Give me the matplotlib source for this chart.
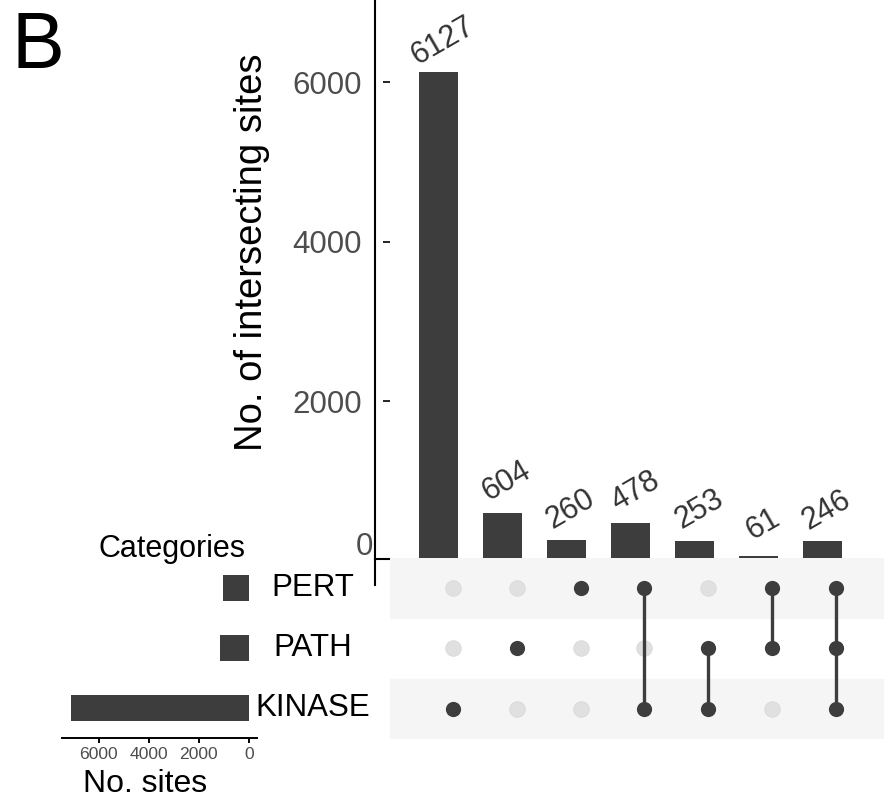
import matplotlib
matplotlib.use('Agg')
import matplotlib.pyplot as plt
import matplotlib.transforms as mtransforms
from matplotlib.lines import Line2D

plt.rcParams['font.family'] = ['Liberation Sans', 'DejaVu Sans']

# Data
sets = ['PERT', 'PATH', 'KINASE']
set_sizes = [1045, 1164, 7104]
inter_counts = [6127, 604, 260, 478, 253, 61, 246]
# membership of each intersection (one row per set: PERT, PATH, KINASE)
members = [
    ['KINASE'],
    ['PATH'],
    ['PERT'],
    ['PERT', 'KINASE'],
    ['PATH', 'KINASE'],
    ['PERT', 'PATH'],
    ['PERT', 'PATH', 'KINASE'],
]
bar_ticks = [2000, 4000, 6000]
set_ticks = [0, 2000, 4000, 6000]

W, H = 884, 798
dark = '#3D3D3D'
grey_txt = '#4D4D4D'


def box(left, top, right, bottom):
    # figure fractions from pixel edges
    return [left / W, 1 - bottom / H, (right - left) / W, (bottom - top) / H]


fig = plt.figure(figsize=(W / 100, H / 100), dpi=100)

# ---- intersection size bars ----
ax_bar = fig.add_axes(box(383, 0, 884, 561))
x = list(range(len(inter_counts)))
ax_bar.bar(x, inter_counts, width=0.61, color=dark)
ax_bar.set_xlim(-0.867, 6.96)
ax_bar.set_ylim(0, 7034)
for s in ax_bar.spines.values():
    s.set_visible(False)
ax_bar.set_xticks([])
ax_bar.set_yticks(bar_ticks)
ax_bar.set_yticklabels([str(t) for t in bar_ticks])
ax_bar.tick_params(axis='y', direction='in', length=5, width=1.2, color='black',
                   labelsize=22.5, labelcolor=grey_txt, pad=15.3)
for xi, v in zip(x, inter_counts):
    ax_bar.annotate(str(v), (xi, v), xytext=(3.2, 22.5), textcoords='offset points',
                    rotation=30, ha='center', va='center', fontsize=22, color='#333333')

# axis line and zero tick
fig.add_artist(Line2D([375 / W, 375 / W], [1, 1 - 585 / H], color='black', lw=1.5))
fig.add_artist(Line2D([375 / W, 390 / W], [1 - 559 / H, 1 - 559 / H], color='black', lw=1.5))
fig.text(373 / W, 1 - 547 / H, '0', ha='right', va='center', fontsize=22.5, color=grey_txt)
fig.text(252 / W, 1 - 252 / H, 'No. of intersecting sites', rotation=90,
         ha='center', va='center', fontsize=27.5, color='black')

# ---- matrix ----
ax_mat = fig.add_axes(box(390, 557.7, 884, 739), zorder=3)
ax_mat.set_xlim(-0.987, 6.755)
ax_mat.set_ylim(2.5, -0.5)
ax_mat.axis('off')
for r in range(len(sets)):
    if r % 2 == 0:
        ax_mat.axhspan(r - 0.5, r + 0.5, color='#F5F5F5', zorder=0)
for ci, mem in enumerate(members):
    rows = [sets.index(m) for m in mem]
    for r in range(len(sets)):
        if r not in rows:
            ax_mat.scatter(ci, r, s=125, color='#E0E0E0', edgecolors='#D9D9D9',
                           zorder=1, linewidths=0.6)
    if len(rows) > 1:
        ax_mat.plot([ci, ci], [min(rows), max(rows)], color=dark, lw=2.4, zorder=2)
    ax_mat.scatter([ci] * len(rows), rows, s=120, color=dark, zorder=3, linewidths=0)

# ---- set sizes ----
ax_set = fig.add_axes(box(62, 558, 257, 738))
ax_set.barh(range(len(sets)), set_sizes, height=0.43, color=dark)
ax_set.set_xlim(7468, -332)
ax_set.set_ylim(2.5, -0.5)
for k in ['top', 'left', 'right']:
    ax_set.spines[k].set_visible(False)
ax_set.spines['bottom'].set_linewidth(1.4)
ax_set.set_yticks([])
ax_set.set_xticks(set_ticks)
ax_set.set_xticklabels([str(t) for t in set_ticks])
ax_set.tick_params(axis='x', length=3.6, width=1.4, labelsize=12.6,
                   labelcolor=grey_txt, pad=3)

trans = mtransforms.blended_transform_factory(fig.transFigure, ax_set.transData)
for i, name in enumerate(sets):
    fig.text(313 / W, i, name, transform=trans, ha='center', va='center',
             fontsize=22.5, color='black')

fig.text(145 / W, 1 - 792 / H, 'No. sites', ha='center', va='baseline', fontsize=23)
fig.text(171.5 / W, 1 - 556.7 / H, 'Categories', ha='center', va='baseline', fontsize=22)
fig.text(11 / W, 1 - 68 / H, 'B', ha='left', va='baseline', fontsize=57)

fig.savefig('out.png', dpi=100)
